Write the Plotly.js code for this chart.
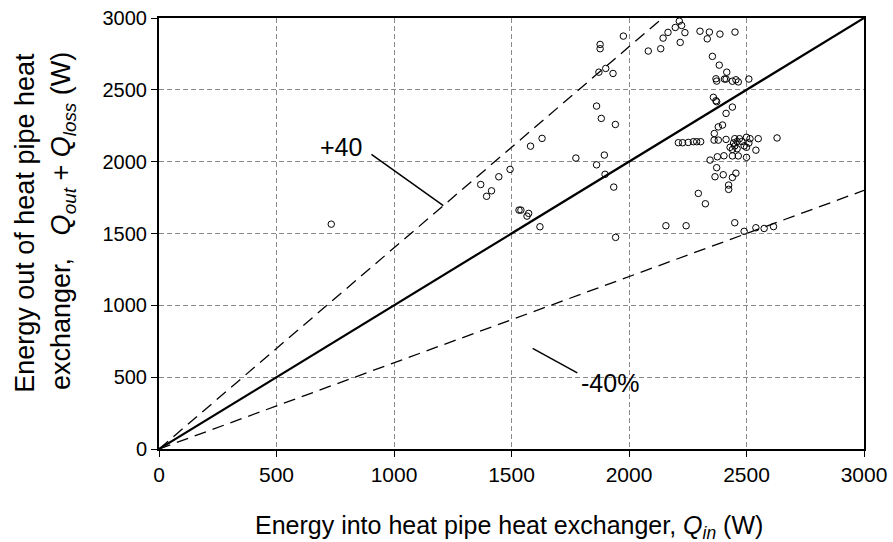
<!DOCTYPE html>
<html><head><meta charset="utf-8">
<script src="https://cdn.plot.ly/plotly-3.0.1.min.js"></script>
<style>html,body{margin:0;padding:0;background:#fff}#chart{width:893px;height:542px}</style>
</head><body><div id="chart"></div>
<script>
const qin = [733,1369,1394,1415,1446,1494,1581,1630,1540,1532,1573,1566,1621,1774,1862,1895,1898,1935,1943,2157,2243,
1862,1882,1942,1872,1901,1932,1877,1877,1976,2082,2135,2145,2166,2197,2214,2224,2238,2218,2302,2342,2333,2387,2355,2384,2416,
2370,2373,2406,2413,2359,2370,2210,2228,2252,2274,2288,2305,2345,2376,2404,2373,2366,2401,2295,2325,2424,2424,2363,2362,2380,
2413,2380,2398,2413,2373,2451,2440,2455,2465,2510,2440,2430,2440,2450,2460,2470,2480,2490,2500,2510,2515,2500,2460,2445,2450,
2500,2540,2455,2440,2440,2465,2630,2550,2450,2490,2540,2575,2615];
const qout = [1565,1841,1759,1797,1895,1946,2108,2162,1663,1663,1640,1621,1547,2025,1978,2046,1912,1823,1473,1554,1554,
2387,2301,2259,2623,2649,2614,2816,2786,2874,2770,2786,2860,2900,2934,2978,2948,2898,2830,2908,2902,2855,2888,2733,2672,2623,
2577,2561,2575,2575,2448,2424,2132,2132,2134,2139,2139,2139,2011,2034,2041,1958,1895,1909,1779,1707,1837,1807,2196,2150,2150,
2155,2242,2255,2336,2417,2902,2560,2570,2555,2575,2380,2100,2085,2110,2090,2160,2140,2110,2100,2130,2160,2170,2140,2130,2160,
2030,2080,1920,1890,2040,2040,2165,2160,1575,1515,1540,1535,1548];
const ticks = [0,500,1000,1500,2000,2500,3000];
const equalX = [0,3000], equalY = [0,3000];
const plusX = [0,2142.9], plusY = [0,3000];
const minusX = [0,3000], minusY = [0,1800];
const plusLeader = {x0:904,y0:2051,x1:1210,y1:1694};
const minusLeader = {x0:1590,y0:700,x1:1780,y1:530};

const traces = [
 {x:plusX,y:plusY,mode:'lines',line:{color:'#000',width:1.3,dash:'12px,7px'},hoverinfo:'skip'},
 {x:minusX,y:minusY,mode:'lines',line:{color:'#000',width:1.3,dash:'12px,7px'},hoverinfo:'skip'},
 {x:equalX,y:equalY,mode:'lines',line:{color:'#000',width:2.2},hoverinfo:'skip'},
 {x:qin,y:qout,mode:'markers',marker:{symbol:'circle-open',size:6.5,color:'#000',line:{width:1,color:'#000'}}},
 {x:[plusLeader.x0,plusLeader.x1],y:[plusLeader.y0,plusLeader.y1],mode:'lines',line:{color:'#000',width:1.5}},
 {x:[minusLeader.x0,minusLeader.x1],y:[minusLeader.y0,minusLeader.y1],mode:'lines',line:{color:'#000',width:1.5}}
];
const fontF = 'Liberation Sans, Arial, sans-serif';
const axisCommon = {range:[0,3000],tickvals:ticks,ticktext:ticks.map(String),showgrid:true,gridcolor:'#8a8a8a',griddash:'5px,3px',gridwidth:1,
 showline:true,linecolor:'#000',linewidth:2,mirror:true,ticks:'outside',ticklen:6,tickcolor:'#000',zeroline:false,
 tickfont:{family:fontF,size:20,color:'#000'},fixedrange:true};
const layout = {
 width:893,height:542,margin:{l:159,r:29,t:18,b:93},paper_bgcolor:'#fff',plot_bgcolor:'#fff',showlegend:false,
 xaxis:Object.assign({},axisCommon,{tickfont:{family:fontF,size:21,color:'#000'}}),
 yaxis:Object.assign({},axisCommon),
 annotations:[
  {xref:'paper',yref:'paper',x:0.497,y:-0.18,xanchor:'center',yanchor:'middle',showarrow:false,
   text:'Energy into heat pipe heat exchanger, <i>Q<sub>in</sub></i> (W)',font:{family:fontF,size:25,color:'#000'}},
  {xref:'paper',yref:'paper',x:-0.19,y:0.525,xanchor:'center',yanchor:'middle',textangle:-90,showarrow:false,
   text:'Energy out of heat pipe heat',font:{family:fontF,size:27,color:'#000'}},
  {xref:'paper',yref:'paper',x:-0.137,y:0.53,xanchor:'center',yanchor:'middle',textangle:-90,showarrow:false,
   text:'exchanger,   <i>Q<sub>out</sub></i> + <i>Q<sub>loss</sub></i> (W)',font:{family:fontF,size:27,color:'#000'}},
  {xref:'x',yref:'y',x:773,y:2105,xanchor:'center',yanchor:'middle',showarrow:false,text:'+40',font:{family:fontF,size:25,color:'#000'}},
  {xref:'x',yref:'y',x:1920,y:460,xanchor:'center',yanchor:'middle',showarrow:false,text:'-40%',font:{family:fontF,size:25,color:'#000'}}
 ]
};
Plotly.newPlot('chart',traces,layout,{displayModeBar:false,staticPlot:true});
</script></body></html>
